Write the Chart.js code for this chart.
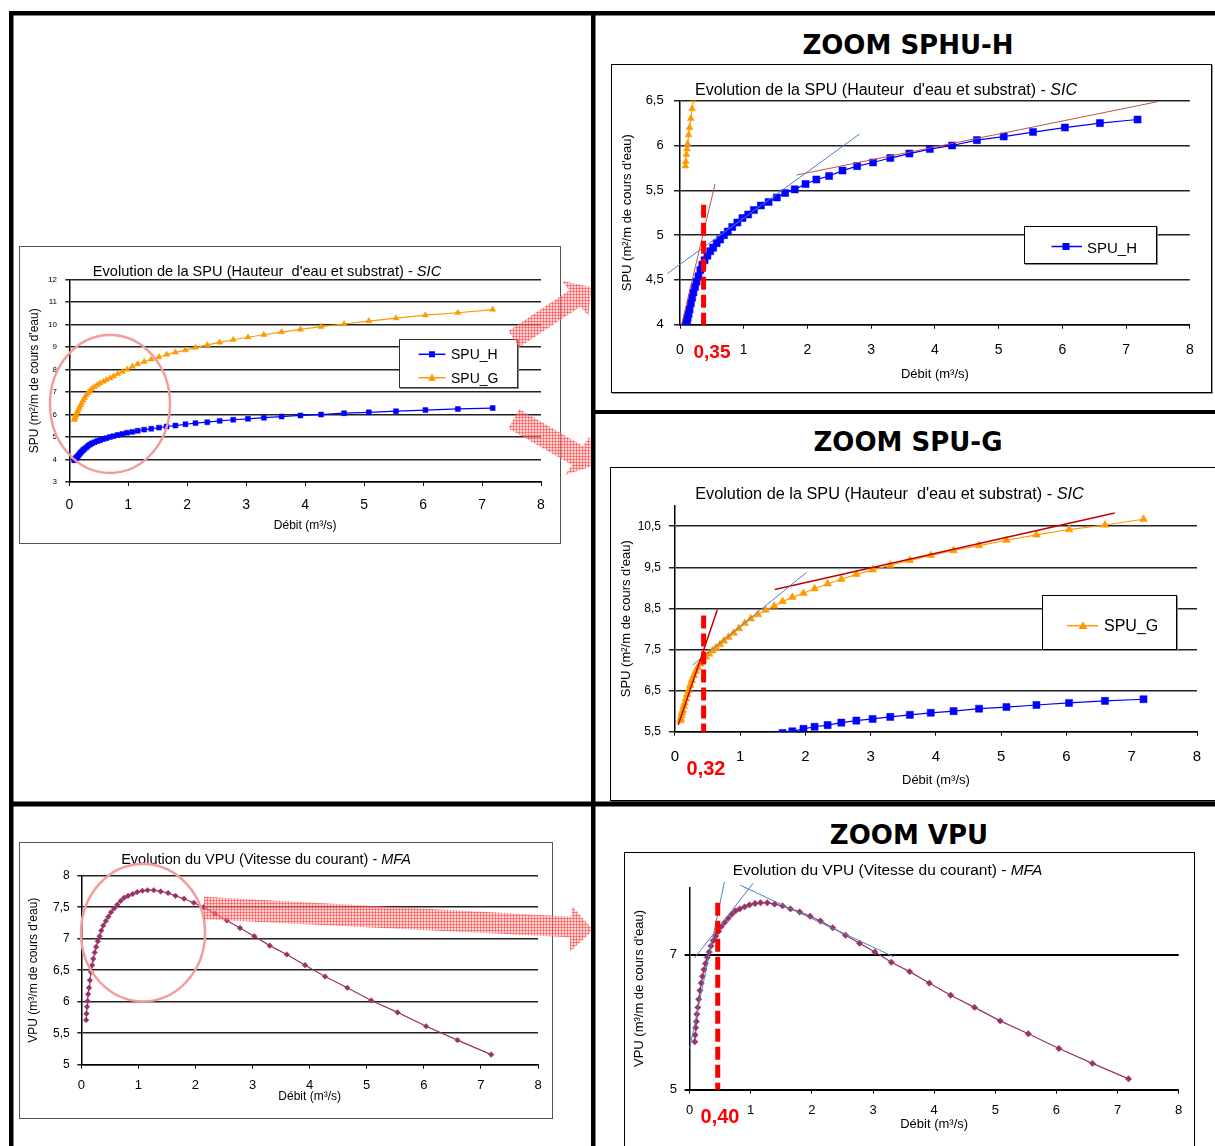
<!DOCTYPE html>
<html><head><meta charset="utf-8">
<script src="https://cdn.jsdelivr.net/npm/chart.js@4.4.1/dist/chart.umd.min.js"></script>
<style>
html,body{margin:0;padding:0;background:#fff;}
body{width:1215px;height:1146px;position:relative;overflow:hidden;font-family:"Liberation Sans",Arial,sans-serif;}
.frame{position:absolute;box-sizing:border-box;background:#fff;z-index:1;}
.frame canvas{position:absolute;left:0;top:0;}
.ttl{position:absolute;white-space:pre;transform:translate(-50%,-50%);color:#000;line-height:1;z-index:2;}
.ptitle{position:absolute;transform:translate(-50%,-50%);font-family:"DejaVu Sans",Verdana,sans-serif;font-weight:bold;font-size:26px;line-height:1;white-space:pre;z-index:2;}
.red{position:absolute;transform:translate(-50%,-50%);color:#ff0000;font-weight:bold;line-height:1;z-index:5;}
.leg{position:absolute;box-sizing:border-box;border:1px solid #000;background:#fff;z-index:2;box-shadow:1px 1px 0 #888;}
.lt{position:absolute;transform:translateY(-50%);line-height:1;white-space:pre;z-index:3;}
#ov{position:absolute;left:0;top:0;z-index:4;pointer-events:none;}
</style>
</head>
<body>

<div class="ptitle" style="left:908px;top:45px">ZOOM SPHU-H</div>
<div class="ptitle" style="left:908px;top:442px">ZOOM SPU-G</div>
<div class="ptitle" style="left:909px;top:835px">ZOOM VPU</div>

<div class="frame" style="left:19px;top:246px;width:542px;height:298px;border:1px solid #555;"><canvas id="cA"></canvas></div>
<div class="frame" style="left:611px;top:64px;width:601px;height:329px;border:1px solid #000;box-shadow:1px 1px 0 #999;"><canvas id="cB"></canvas></div>
<div class="frame" style="left:610px;top:467px;width:606px;height:334px;border:1px solid #000;box-shadow:1px 1px 0 #999;"><canvas id="cC"></canvas></div>
<div class="frame" style="left:19px;top:842px;width:534px;height:277px;border:1px solid #555;"><canvas id="cD"></canvas></div>
<div class="frame" style="left:624px;top:852px;width:571px;height:300px;border:1px solid #000;"><canvas id="cE"></canvas></div>

<div class="ttl" style="left:267px;top:270.7px;font-size:14.6px">Evolution de la SPU (Hauteur  d'eau et substrat) - <i>SIC</i></div>
<div class="ttl" style="left:886px;top:90px;font-size:16px">Evolution de la SPU (Hauteur  d'eau et substrat) - <i>SIC</i></div>
<div class="ttl" style="left:889.5px;top:493.3px;font-size:16.3px">Evolution de la SPU (Hauteur  d'eau et substrat) - <i>SIC</i></div>
<div class="ttl" style="left:266px;top:859.3px;font-size:14.5px">Evolution du VPU (Vitesse du courant) - <i>MFA</i></div>
<div class="ttl" style="left:887.5px;top:870px;font-size:15.5px">Evolution du VPU (Vitesse du courant) - <i>MFA</i></div>

<div class="leg" style="left:399px;top:339px;width:119px;height:49px;border-color:#333"></div>
<div class="lt" style="left:451px;top:354.3px;font-size:14px">SPU_H</div>
<div class="lt" style="left:451px;top:377.7px;font-size:14px">SPU_G</div>
<div class="leg" style="left:1024px;top:226px;width:133px;height:38px"></div>
<div class="lt" style="left:1087px;top:246.5px;font-size:15px">SPU_H</div>
<div class="leg" style="left:1042px;top:595px;width:135px;height:55px"></div>
<div class="lt" style="left:1104px;top:625.7px;font-size:16px">SPU_G</div>

<div class="red" style="left:712px;top:350.7px;font-size:19px">0,35</div>
<div class="red" style="left:706px;top:768.3px;font-size:20px">0,32</div>
<div class="red" style="left:720px;top:1116px;font-size:20px">0,40</div>

<svg id="ov" width="1215" height="1146" viewBox="0 0 1215 1146">
  <defs>
    <pattern id="hatch" width="3" height="3" patternUnits="userSpaceOnUse">
      <rect width="3" height="3" fill="rgba(255,175,175,0.5)"/>
      <path d="M0 0.5H3M0.5 0V3" stroke="rgba(255,30,30,0.45)" stroke-width="1"/>
    </pattern>
  </defs>
  <line x1="418.6" y1="354.3" x2="445.4" y2="354.3" stroke="#0000ff" stroke-width="1.5"/>
  <rect x="429" y="351.3" width="6" height="6" fill="#0000ff"/>
  <line x1="418.6" y1="377.7" x2="445.4" y2="377.7" stroke="#ff9900" stroke-width="1.5"/>
  <polygon points="432,373.7 436,380.7 428,380.7" fill="#ff9900"/>
  <line x1="1051.5" y1="246.5" x2="1082" y2="246.5" stroke="#0000ff" stroke-width="1.5"/>
  <rect x="1062.5" y="243" width="7" height="7" fill="#0000ff"/>
  <line x1="1067" y1="625.7" x2="1098" y2="625.7" stroke="#ff9900" stroke-width="1.5"/>
  <polygon points="1083,621.2 1087.5,629 1078.5,629" fill="#ff9900"/>
  <ellipse cx="110" cy="404" rx="60" ry="69" fill="none" stroke="#f49c9c" stroke-width="2.5"/>
  <ellipse cx="143" cy="932.7" rx="62" ry="68.7" fill="none" stroke="#f49c9c" stroke-width="2.5"/>
  <polygon points="508.3,331 569.5,290.2 561.7,280.7 591.7,287.3 588.3,316 580.5,306.5 519.3,347.3" fill="url(#hatch)"/>
  <polygon points="519.3,409.3 583,446 590,436 594.8,465.5 565,475 572,465 508.3,428.3" fill="url(#hatch)"/>
  <polygon points="204,896.7 571.7,916.7 571.7,906 593.3,930 570,951.7 570,937.3 204,919.3" fill="url(#hatch)"/>
  <rect x="9" y="11" width="1206" height="4.5" fill="#000"/>
  <rect x="9" y="11" width="4.5" height="1135" fill="#000"/>
  <rect x="591" y="11" width="4.5" height="1135" fill="#000"/>
  <rect x="591" y="410" width="624" height="4" fill="#000"/>
  <rect x="9" y="801.5" width="1206" height="5" fill="#000"/>
</svg>

<script>
const FONT = '"Liberation Sans", Arial, sans-serif';
Chart.defaults.font.family = FONT;
Chart.defaults.color = '#000';

// ---- data (débit in m3/s) ----
const debit = [0.085,0.09,0.10,0.11,0.12,0.135,0.15,0.17,0.19,0.21,0.235,0.26,0.29,0.32,0.35,0.385,0.43,0.475,0.52,0.575,0.63,0.69,0.75,0.82,0.90,0.98,1.07,1.16,1.27,1.39,1.52,1.65,1.80,1.97,2.14,2.34,2.55,2.78,3.03,3.30,3.60,3.92,4.27,4.66,5.08,5.54,6.04,6.59,7.18];
const spuH = [3.97,3.99,4.02,4.05,4.08,4.12,4.17,4.24,4.30,4.36,4.42,4.48,4.54,4.61,4.67,4.72,4.77,4.82,4.86,4.91,4.95,5.00,5.04,5.09,5.14,5.19,5.23,5.28,5.33,5.37,5.42,5.47,5.51,5.57,5.62,5.66,5.72,5.77,5.81,5.86,5.91,5.96,6.00,6.06,6.10,6.15,6.20,6.25,6.29];
const spuG = [5.77,5.82,5.90,5.96,6.02,6.12,6.20,6.30,6.41,6.51,6.63,6.75,6.87,6.97,7.06,7.15,7.24,7.32,7.39,7.47,7.54,7.62,7.71,7.80,7.90,8.01,8.14,8.25,8.35,8.46,8.56,8.67,8.77,8.87,8.98,9.10,9.21,9.33,9.44,9.55,9.67,9.79,9.91,10.03,10.16,10.29,10.42,10.53,10.67];
const vpu = [5.71,5.81,5.92,6.01,6.12,6.22,6.34,6.47,6.58,6.68,6.78,6.87,6.96,7.04,7.13,7.21,7.28,7.35,7.42,7.48,7.54,7.60,7.65,7.68,7.71,7.74,7.76,7.77,7.77,7.75,7.725,7.68,7.635,7.57,7.50,7.40,7.29,7.17,7.04,6.89,6.75,6.58,6.40,6.22,6.02,5.83,5.61,5.39,5.16];

// tangents & thresholds [débit, value]
const tanH1 = [[0.025,4.0],[0.55,5.57]];
const tanH2 = [[-0.2,4.57],[2.82,6.13]];
const tanH3 = [[1.83,5.67],[7.5,6.49]];
const seuilH = [[0.37,5.34],[0.37,4.0]];
const tanG1 = [[0.05,5.66],[0.65,8.47]];
const tanG2 = [[0.27,7.12],[2.02,9.38]];
const tanG3 = [[1.53,8.96],[6.74,10.82]];
const seuilG = [[0.44,8.33],[0.44,5.5]];
const tanV1 = [[0.0,5.61],[0.57,8.08]];
const tanV2 = [[0.08,6.95],[1.04,8.06]];
const tanV3 = [[0.83,8.03],[3.34,6.97]];
const seuilV = [[0.46,7.77],[0.46,5.0]];

// ticks
const xTickVals = [0,1,2,3,4,5,6,7,8];
const xTickLabels = ['0','1','2','3','4','5','6','7','8'];
const ySpuVals = [3,4,5,6,7,8,9,10,11,12];
const ySpuLabels = ['3','4','5','6','7','8','9','10','11','12'];
const yZoomHVals = [4,4.5,5,5.5,6,6.5];
const yZoomHLabels = ['4','4,5','5','5,5','6','6,5'];
const yZoomGVals = [5.5,6.5,7.5,8.5,9.5,10.5];
const yZoomGLabels = ['5,5','6,5','7,5','8,5','9,5','10,5'];
const yVpuVals = [5,5.5,6,6.5,7,7.5,8];
const yVpuLabels = ['5','5,5','6','6,5','7','7,5','8'];
const yZoomVVals = [5,7];
const yZoomVLabels = ['5','7'];

const titleX = 'Débit (m³/s)';
const titleSPU = "SPU (m²/m de cours d'eau)";
const titleVPU = "VPU (m³/m de cours d'eau)";

const pts = (xs, ys) => xs.map((x, i) => ({x: x, y: ys[i]}));
const seg = a => a.map(p => ({x: p[0], y: p[1]}));

function serie(data, color, style, r) {
  return {data, borderColor: color, backgroundColor: color, pointBackgroundColor: color,
    pointBorderColor: color, borderWidth: 1.2, pointStyle: style, pointRadius: r,
    pointBorderWidth: 0.5, tension: 0, fill: false};
}
function straight(data, color, w, dash) {
  return {data, borderColor: color, borderWidth: w, borderDash: dash || [], pointRadius: 0,
    clip: false, tension: 0, fill: false};
}
function axis(o) {
  return {
    type: 'linear', min: o.min, max: o.max,
    afterBuildTicks: s => { s.ticks = o.vals.map(v => ({value: v})); },
    afterFit: s => {
      if (s.isHorizontal()) s.height = o.size; else s.width = o.size;
      s.paddingLeft = 0; s.paddingRight = 0; s.paddingTop = 0; s.paddingBottom = 0;
    },
    ticks: {autoSkip: false, maxRotation: 0, minRotation: 0, padding: o.pad,
      font: {size: o.font}, color: '#000', callback: (v, i) => o.labels[i]},
    grid: {display: true, drawOnChartArea: o.gridOn, drawTicks: true, tickLength: o.tl,
      color: o.gridColor || '#000', lineWidth: o.gridW || 1},
    border: {display: true, color: '#000', width: 1.5},
    title: {display: true, text: o.title, font: {size: o.tfont}, color: '#000', padding: o.tpad}
  };
}
function build(id, w, h, plot, xo, yo, datasets) {
  const c = document.getElementById(id);
  c.width = w; c.height = h;
  c.style.width = w + 'px'; c.style.height = h + 'px';
  xo.size = h - plot.b; yo.size = plot.l;
  return new Chart(c, {
    type: 'line',
    data: {datasets},
    options: {
      responsive: false, animation: false, devicePixelRatio: 1,
      layout: {padding: {left: 0, top: plot.t, right: w - plot.r, bottom: 0}},
      plugins: {legend: {display: false}, tooltip: {enabled: false}, title: {display: false}},
      scales: {x: axis(xo), y: axis(yo)}
    }
  });
}

// A : small SPU
build('cA', 540, 296, {l: 49.3, t: 32.7, r: 521, b: 235},
  {min: 0, max: 8, vals: xTickVals, labels: xTickLabels, font: 14, pad: 10.6, tl: 4, gridOn: false,
   title: titleX, tfont: 12, tpad: {top: 0, bottom: 9.8}},
  {min: 3, max: 12, vals: ySpuVals, labels: ySpuLabels, font: 8, pad: 8.3, tl: 4, gridOn: true,
   gridColor: '#222', gridW: 1.5, title: titleSPU, tfont: 12, tpad: {top: 7.4, bottom: 0}},
  [serie(pts(debit, spuH), '#0000ff', 'rect', 3.5),
   serie(pts(debit, spuG), '#ff9900', 'triangle', 3.5)]);

// B : zoom SPU_H
build('cB', 599, 327, {l: 68, t: 35.7, r: 577.8, b: 259.7},
  {min: 0, max: 8, vals: xTickVals, labels: xTickLabels, font: 14, pad: 12.9, tl: 4, gridOn: false,
   title: titleX, tfont: 13, tpad: {top: 0, bottom: 9.9}},
  {min: 4, max: 6.5, vals: yZoomHVals, labels: yZoomHLabels, font: 13, pad: 10.3, tl: 6, gridOn: true,
   gridColor: '#222', gridW: 1.5, title: titleSPU, tfont: 13, tpad: {top: 8.1, bottom: 0}},
  [straight(seg(seuilH), '#ff0000', 5, [13, 5]),
   straight(seg(tanH1), '#c0504d', 1),
   straight(seg(tanH2), '#4f81bd', 1),
   straight(seg(tanH3), '#c0504d', 1),
   serie(pts(debit, spuH), '#0000ff', 'rect', 5),
   serie(pts(debit, spuG), '#ff9900', 'triangle', 4)]);

// C : zoom SPU_G
build('cC', 604, 332, {l: 63.9, t: 37.7, r: 586, b: 263.7},
  {min: 0, max: 8, vals: xTickVals, labels: xTickLabels, font: 15, pad: 12.6, tl: 4, gridOn: false,
   title: titleX, tfont: 13, tpad: {top: 0, bottom: 11.5}},
  {min: 5.5, max: 11, vals: yZoomGVals, labels: yZoomGLabels, font: 12, pad: 7.9, tl: 6, gridOn: true,
   gridColor: '#222', gridW: 1.5, title: titleSPU, tfont: 13, tpad: {top: 7.9, bottom: 0}},
  [straight(seg(seuilG), '#ff0000', 5, [13, 5]),
   straight(seg(tanG1), '#c00000', 1.5),
   straight(seg(tanG2), '#4f81bd', 1),
   straight(seg(tanG3), '#c00000', 1.5),
   serie(pts(debit, spuG), '#ff9900', 'triangle', 4.5),
   serie(pts(debit, spuH), '#0000ff', 'rect', 5)]);

// D : small VPU
build('cD', 532, 275, {l: 61.3, t: 32.7, r: 518, b: 221.7},
  {min: 0, max: 8, vals: xTickVals, labels: xTickLabels, font: 13, pad: 8.5, tl: 4, gridOn: false,
   title: titleX, tfont: 12, tpad: {top: 0, bottom: 14.1}},
  {min: 5, max: 8, vals: yVpuVals, labels: yVpuLabels, font: 12, pad: 7.6, tl: 4, gridOn: true,
   gridColor: '#222', gridW: 1.5, title: titleVPU, tfont: 12, tpad: {top: 6.3, bottom: 0}},
  [serie(pts(debit, vpu), '#993366', 'rectRot', 2.8)]);

// E : zoom VPU
build('cE', 569, 298, {l: 64.6, t: 34.3, r: 553.7, b: 236.7},
  {min: 0, max: 8, vals: xTickVals, labels: xTickLabels, font: 13, pad: 9.2, tl: 4, gridOn: false,
   title: titleX, tfont: 13, tpad: {top: 0, bottom: 19.2}},
  {min: 5, max: 8, vals: yZoomVVals, labels: yZoomVLabels, font: 13, pad: 7.7, tl: 5, gridOn: true,
   gridColor: '#000', gridW: 2, title: titleVPU, tfont: 13, tpad: {top: 7, bottom: 0}},
  [straight(seg(seuilV), '#ff0000', 5, [13, 5]),
   straight(seg(tanV1), '#4f81bd', 1),
   straight(seg(tanV2), '#4f81bd', 1),
   straight(seg(tanV3), '#4f81bd', 1),
   serie(pts(debit, vpu), '#993366', 'rectRot', 3.2)]);
</script>
</body></html>
